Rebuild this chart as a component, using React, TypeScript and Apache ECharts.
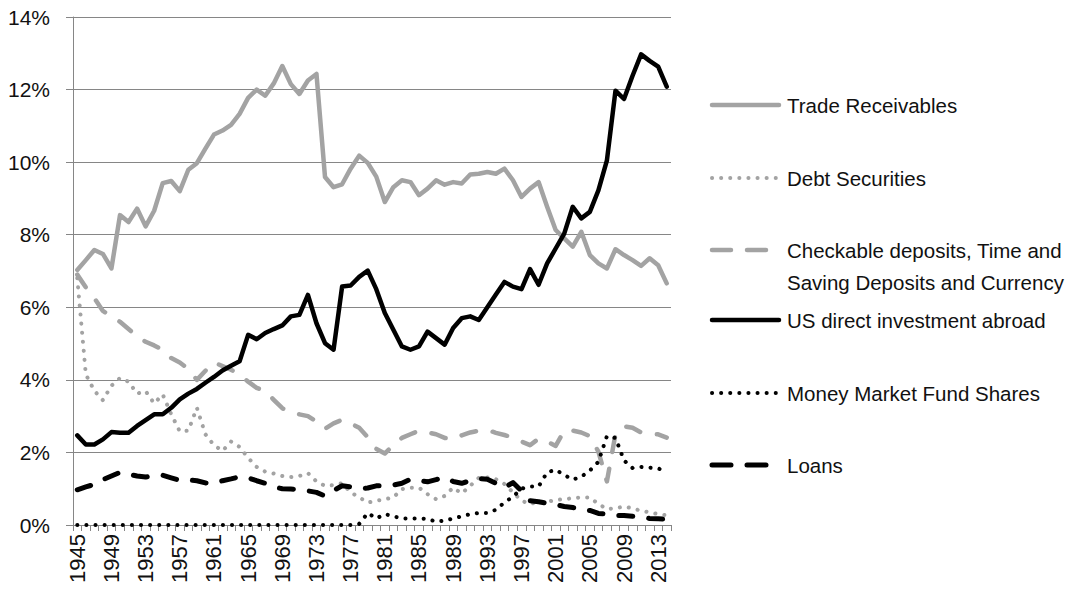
import React, { useEffect, useRef } from "react";
import * as echarts from "echarts";

const years = [
  "1945","1946","1947","1948","1949","1950","1951","1952","1953","1954",
  "1955","1956","1957","1958","1959","1960","1961","1962","1963","1964",
  "1965","1966","1967","1968","1969","1970","1971","1972","1973","1974",
  "1975","1976","1977","1978","1979","1980","1981","1982","1983","1984",
  "1985","1986","1987","1988","1989","1990","1991","1992","1993","1994",
  "1995","1996","1997","1998","1999","2000","2001","2002","2003","2004",
  "2005","2006","2007","2008","2009","2010","2011","2012","2013","2014",
];

const tradeReceivables = [
  7.03, 7.3, 7.58, 7.47, 7.07, 8.54, 8.35, 8.72, 8.23, 8.66,
  9.42, 9.48, 9.2, 9.79, 9.97, 10.37, 10.76, 10.87, 11.03, 11.33,
  11.77, 12.0, 11.83, 12.17, 12.65, 12.15, 11.88, 12.25, 12.43, 9.59,
  9.31, 9.39, 9.82, 10.18, 9.98, 9.6, 8.9, 9.31, 9.5, 9.45,
  9.09, 9.27, 9.5, 9.38, 9.45, 9.41, 9.66, 9.68, 9.73, 9.68,
  9.82, 9.5, 9.04, 9.27, 9.45, 8.77, 8.13, 7.9, 7.67, 8.08,
  7.44, 7.21, 7.07, 7.6, 7.44, 7.3, 7.14, 7.35, 7.16, 6.66,
];

const debtSecurities = [
  6.8, 4.15, 3.7, 3.44, 3.84, 4.05, 3.95, 3.62, 3.69, 3.35,
  3.6, 3.05, 2.58, 2.6, 3.23, 2.5, 2.2, 2.04, 2.3, 2.15,
  1.85, 1.6, 1.47, 1.42, 1.35, 1.32, 1.35, 1.43, 1.2, 1.08,
  1.1, 1.15, 0.9, 0.76, 0.62, 0.67, 0.71, 0.76, 0.99, 1.03,
  1.03, 0.85, 0.71, 0.8, 1.03, 0.87, 1.08, 1.3, 1.31, 1.26,
  1.13, 0.9, 0.67, 0.58, 0.64, 0.64, 0.69, 0.71, 0.74, 0.76,
  0.76, 0.58, 0.44, 0.46, 0.51, 0.46, 0.39, 0.35, 0.3, 0.27,
];

const checkableDeposits = [
  6.9, 6.55, 6.25, 5.9, 5.75, 5.6, 5.4, 5.2, 5.05, 4.95,
  4.83, 4.6, 4.48, 4.3, 4.0, 4.25, 4.48, 4.38, 4.28, 4.14,
  3.95, 3.78, 3.69, 3.45, 3.22, 3.1, 3.05, 3.0, 2.85, 2.65,
  2.8, 2.9, 2.8, 2.68, 2.42, 2.1, 1.97, 2.2, 2.4, 2.5,
  2.6, 2.55, 2.5, 2.4, 2.36, 2.47, 2.55, 2.6, 2.62, 2.54,
  2.48, 2.41, 2.3, 2.2, 2.38, 2.3, 2.18, 2.6, 2.6, 2.55,
  2.45, 2.02, 1.2, 2.5, 2.72, 2.68, 2.55, 2.5, 2.5, 2.41,
];

const usDirectInvestment = [
  2.47, 2.22, 2.22, 2.36, 2.56, 2.54, 2.54, 2.73, 2.89, 3.05,
  3.05, 3.23, 3.46, 3.62, 3.75, 3.92, 4.08, 4.26, 4.39, 4.51,
  5.24, 5.12, 5.29, 5.4, 5.5, 5.75, 5.79, 6.34, 5.56, 5.01,
  4.83, 6.57, 6.6, 6.84, 7.01, 6.5, 5.84, 5.38, 4.92, 4.83,
  4.92, 5.33, 5.15, 4.97, 5.43, 5.7, 5.75, 5.65, 6.0, 6.35,
  6.7, 6.57, 6.5, 7.05, 6.62, 7.21, 7.62, 8.03, 8.77, 8.45,
  8.63, 9.22, 10.05, 11.97, 11.74, 12.38, 12.97, 12.79, 12.63, 12.08,
];

const moneyMarketFundShares = [
  0, 0, 0, 0, 0, 0, 0, 0, 0, 0,
  0, 0, 0, 0, 0, 0, 0, 0, 0, 0,
  0, 0, 0, 0, 0, 0, 0, 0, 0, 0,
  0, 0, 0, 0.03, 0.33, 0.18, 0.3, 0.24, 0.18, 0.18,
  0.18, 0.17, 0.09, 0.12, 0.18, 0.24, 0.3, 0.33, 0.33, 0.42,
  0.62, 0.78, 1.0, 1.06, 1.06, 1.45, 1.52, 1.38, 1.25, 1.33,
  1.5, 1.74, 2.45, 2.4, 1.78, 1.57, 1.6, 1.58, 1.56, 1.46,
];

const loans = [
  0.97, 1.05, 1.12, 1.25, 1.35, 1.45, 1.4, 1.35, 1.32, 1.36,
  1.37, 1.3, 1.23, 1.24, 1.22, 1.16, 1.15, 1.22, 1.27, 1.33,
  1.3, 1.22, 1.15, 1.05, 1.0, 0.99, 0.98, 0.94, 0.9, 0.8,
  0.95, 1.08, 1.05, 1.0, 1.02, 1.08, 1.08, 1.1, 1.15, 1.26,
  1.22, 1.19, 1.25, 1.31, 1.2, 1.15, 1.22, 1.28, 1.26, 1.15,
  1.03, 1.17, 0.94, 0.67, 0.64, 0.6, 0.56, 0.51, 0.48, 0.44,
  0.4, 0.32, 0.3, 0.26, 0.26, 0.24, 0.22, 0.18, 0.17, 0.16,
];

const seriesNames = [
  "Trade Receivables",
  "Debt Securities",
  "Checkable deposits, Time and\nSaving Deposits and Currency",
  "US direct investment abroad",
  "Money Market Fund Shares",
  "Loans",
];

const GRAY = "#a3a3a3";
const BLACK = "#000000";
const FONT = "'Liberation Sans', Arial, sans-serif";

const styles = [
  { color: GRAY, width: 4.5, dash: "solid" as any, cap: "round" },
  { color: GRAY, width: 4, dash: [0.1, 9], cap: "round" },
  { color: GRAY, width: 4.5, dash: [15, 17], cap: "round" },
  { color: BLACK, width: 4.5, dash: "solid" as any, cap: "round" },
  { color: BLACK, width: 4, dash: [0.1, 9], cap: "round" },
  { color: BLACK, width: 5, dash: [14, 16], cap: "round" },
];

const legendRows = [105, 178, 250, 320, 393, 465];

export default function App() {
  const ref = useRef<HTMLDivElement>(null);

  useEffect(() => {
    if (!ref.current) return;
    const chart = echarts.init(ref.current, null, { renderer: "svg" });
    const dataSets = [
      tradeReceivables,
      debtSecurities,
      checkableDeposits,
      usDirectInvestment,
      moneyMarketFundShares,
      loans,
    ];

    const graphic: any[] = [];
    seriesNames.forEach((name, i) => {
      const st = styles[i];
      const y = legendRows[i];
      graphic.push({
        type: "line",
        shape: { x1: 712, y1: y, x2: i === 1 || i === 4 ? 776 : i === 2 || i === 5 ? 766 : 779, y2: y },
        style: {
          stroke: st.color,
          lineWidth: st.width,
          lineDash: Array.isArray(st.dash) ? (i === 2 || i === 5 ? [19, 16] : st.dash) : null,
          lineCap: "round",
        },
        silent: true,
      });
      graphic.push({
        type: "text",
        x: 787,
        y: i === 2 ? y - 16 : y,
        style: {
          text: name,
          fill: "#111",
          font: `20.5px ${FONT}`,
          fontSize: 20.5,
          fontFamily: FONT,
          lineHeight: 32,
          verticalAlign: i === 2 ? "top" : "middle",
          align: "left",
        },
        silent: true,
      });
    });

    chart.setOption({
      animation: false,
      backgroundColor: "#ffffff",
      grid: { left: 73, right: 407, top: 17, bottom: 71, containLabel: false },
      xAxis: {
        type: "category",
        data: years,
        boundaryGap: true,
        axisLine: { show: true, lineStyle: { color: "#868686", width: 1 } },
        axisTick: { show: true, interval: 0, length: 6, lineStyle: { color: "#868686" } },
        axisLabel: {
          interval: 3,
          rotate: 90,
          margin: 9,
          color: "#111",
          fontSize: 22,
          fontFamily: FONT,
        },
        splitLine: { show: false },
      },
      yAxis: {
        type: "value",
        min: 0,
        max: 14,
        interval: 2,
        axisLine: { show: true, lineStyle: { color: "#868686", width: 1 } },
        axisTick: { show: true, length: 7, lineStyle: { color: "#868686" } },
        axisLabel: {
          margin: 23,
          color: "#111",
          fontSize: 21,
          fontFamily: FONT,
          formatter: (v: number) => `${v}%`,
        },
        splitLine: { show: true, lineStyle: { color: "#868686", width: 1 } },
      },
      series: seriesNames.map((name, i) => ({
        name,
        type: "line",
        data: dataSets[i],
        symbol: "none",
        smooth: false,
        z: 2 + i,
        lineStyle: {
          color: styles[i].color,
          width: styles[i].width,
          type: styles[i].dash,
          cap: styles[i].cap,
          join: "round",
        },
        itemStyle: { color: styles[i].color },
      })),
      graphic,
    });

    return () => chart.dispose();
  }, []);

  return (
    <div
      ref={ref}
      style={{ position: "fixed", left: 0, top: 0, width: 1078, height: 596, background: "#fff" }}
    />
  );
}
